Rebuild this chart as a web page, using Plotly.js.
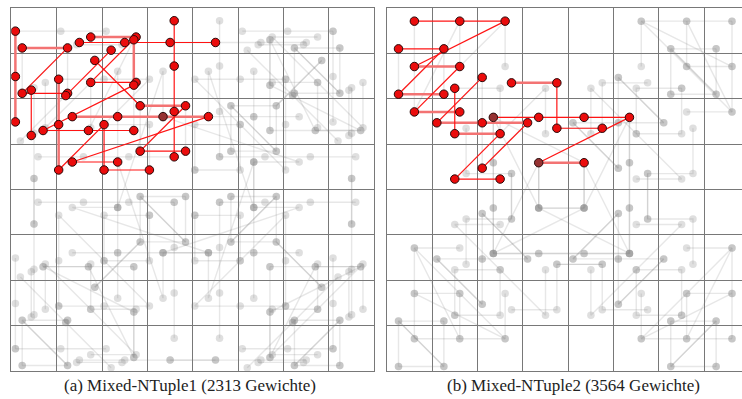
<!DOCTYPE html>
<html><head><meta charset="utf-8">
<script src="https://cdn.plot.ly/plotly-3.0.1.min.js"></script>
<style>html,body{margin:0;padding:0;background:#fff;overflow:hidden}#chart{width:742px;height:399px}</style>
</head><body><div id="chart"></div>
<script>
// ---- DATA ----
const boardSize = 8;
const captions = ["(a) Mixed-NTuple1 (2313 Gewichte)", "(b) Mixed-NTuple2 (3564 Gewichte)"];

// Panel (a): highlighted n-tuples, board cells [column,row] in drawing order
const tuplesA = [
  [[0,0],[0,1],[0,2]],
  [[0,0],[1,0],[0,1],[1,1]],
  [[0,1],[0,2]],
  [[1,1],[2,0]],
  [[1,0],[2,0],[3,0],[4,0]],
  [[1,0],[2,0],[1,1],[2,1]],
  [[2,0],[2,1],[0,2],[1,2],[2,2]],
  [[1,1],[2,2],[3,2],[2,3],[3,3]],
  [[3,0],[3,1],[3,2],[3,3]],
  [[1,1],[1,2],[1,3],[2,2],[2,3],[3,3]],
  [[1,2],[2,2],[3,2],[4,2],[1,3],[2,3]]
];
// position of each tuple's points inside its cells (fraction of a cell)
const offsetsA = [[0.09,0.51],[0.24,0.88],[0.44,0.81],[0.20,0.93],[0.50,0.76],[0.75,0.64],
                  [0.70,0.70],[0.84,0.155],[0.59,0.28],[0.044,0.57],[0.344,0.394]];

// Panel (b)
const tuplesB = [
  [[0,0],[1,0],[2,0],[0,1],[1,1],[0,2],[1,2]],
  [[0,0],[1,0],[0,1],[1,1]],
  [[2,1],[1,2],[2,2],[3,2],[2,3]],
  [[1,1],[1,2],[2,2],[1,3],[2,3]],
  [[2,1],[3,1],[3,2],[4,2]],
  [[2,2],[3,2],[4,2],[5,2],[3,3],[4,3]]
];
const offsetsB = [[0.61,0.29],[0.26,0.90],[0.105,0.53],[0.50,0.77],[0.75,0.65],[0.35,0.41]];

// ---- STYLE (which red segments look faded, which red points look dark) ----
const fadedSegA = [[0,1],[0],[],[],[],[0],[0],[1],[],[0,1],[0,1,2]];
const fadedSegB = [[3,5],[2],[1,2],[1],[0],[4]];
const darkPtsA = [[10,2]];
const darkPtsB = [[5,0],[5,4]];

// the 8 symmetries of the board
const N = boardSize - 1;
const syms = [
  (c,r)=>[c,r], (c,r)=>[N-c,r], (c,r)=>[c,N-r], (c,r)=>[N-c,N-r],
  (c,r)=>[r,c], (c,r)=>[N-r,c], (c,r)=>[r,N-c], (c,r)=>[N-r,N-c]
];

const traces = [];
function panel(tuples, offsets, faded, dark, xa, ya) {
  // gray symmetric copies
  tuples.forEach((t, i) => {
    const off = offsets[i];
    for (let s = 1; s < syms.length; s++) {
      const pts = t.map(([c,r]) => syms[s](c,r));
      traces.push({
        type:'scatter', mode:'lines+markers', xaxis:xa, yaxis:ya, hoverinfo:'skip',
        x: pts.map(p => p[0] + off[0]), y: pts.map(p => p[1] + off[1]),
        line:{color:'rgba(128,128,128,0.19)', width:1.4},
        marker:{size:7.5, color:'rgba(128,128,128,0.25)', line:{width:0}}
      });
    }
  });
  // red tuples
  const fx=[], fy=[], rx=[], ry=[], mx=[], my=[], mc=[];
  tuples.forEach((t, i) => {
    const off = offsets[i];
    for (let k = 0; k < t.length - 1; k++) {
      const a = t[k], b = t[k+1];
      const tx = faded[i].includes(k) ? fx : rx;
      const ty = faded[i].includes(k) ? fy : ry;
      tx.push(a[0]+off[0], b[0]+off[0], null);
      ty.push(a[1]+off[1], b[1]+off[1], null);
    }
    t.forEach((p, k) => {
      mx.push(p[0]+off[0]); my.push(p[1]+off[1]);
      const isDark = dark.some(d => d[0] === i && d[1] === k);
      mc.push(isDark ? 'rgb(150,50,50)' : 'rgb(235,12,12)');
    });
  });
  traces.push({type:'scatter', mode:'lines', xaxis:xa, yaxis:ya, hoverinfo:'skip',
    x:fx, y:fy, line:{color:'rgb(243,115,115)', width:2.5}});
  traces.push({type:'scatter', mode:'lines', xaxis:xa, yaxis:ya, hoverinfo:'skip',
    x:rx, y:ry, line:{color:'rgb(255,20,20)', width:1.2}});
  traces.push({type:'scatter', mode:'markers', xaxis:xa, yaxis:ya, hoverinfo:'skip',
    x:mx, y:my, marker:{size:8.5, color:mc, line:{color:'rgb(40,10,10)', width:1}}});
}
panel(tuplesA, offsetsA, fadedSegA, darkPtsA, 'x', 'y');
panel(tuplesB, offsetsB, fadedSegB, darkPtsB, 'x2', 'y2');

const W = 742, H = 399;
function ax(domain, range, anchor) {
  return {domain, range, anchor, dtick:1, tick0:0, showgrid:true, gridcolor:'rgb(120,120,120)', gridwidth:1,
    showline:true, mirror:true, linecolor:'rgb(120,120,120)', linewidth:1,
    showticklabels:false, ticks:'', zeroline:false, fixedrange:true};
}
const yDom = [1 - 371/H, 1 - 8/H];
const capFont = {family:'Liberation Serif, serif', size:17, color:'#222'};
const layout = {
  width:W, height:H, margin:{l:0,r:0,t:0,b:0}, showlegend:false,
  paper_bgcolor:'#fff', plot_bgcolor:'#fff',
  xaxis: ax([11.3/W, 374.3/W], [0, boardSize], 'y'),
  yaxis: ax(yDom, [boardSize, 0], 'x'),
  xaxis2: ax([386.7/W, 1], [0, (W - 386.7)/45.375], 'y2'),
  yaxis2: ax(yDom, [boardSize, 0], 'x2'),
  annotations: [
    {text:captions[0], x:190/W, y:1 - 385/H, xref:'paper', yref:'paper', showarrow:false,
     xanchor:'center', yanchor:'middle', font:capFont},
    {text:captions[1], x:573/W, y:1 - 385/H, xref:'paper', yref:'paper', showarrow:false,
     xanchor:'center', yanchor:'middle', font:capFont}
  ]
};
Plotly.newPlot('chart', traces, layout, {staticPlot:true, displayModeBar:false});
</script></body></html>
